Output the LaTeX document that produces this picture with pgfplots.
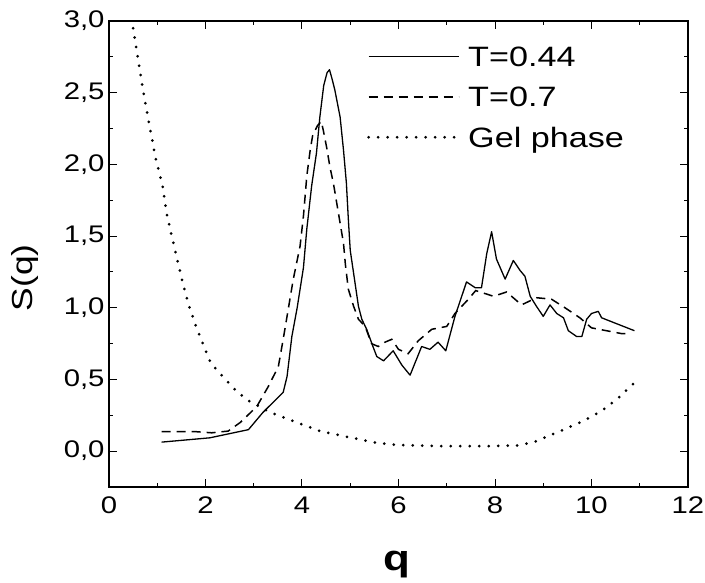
\documentclass[border=0pt]{standalone}
\usepackage{fontspec}
\setmainfont{Liberation Sans}[FakeStretch=1.22]
\usepackage{pgfplots}
\pgfplotsset{compat=1.18}
\begin{document}
\begin{tikzpicture}
\begin{axis}[
  scale only axis, width=579pt, height=466pt,
  xmin=0, xmax=12, ymin=-0.25, ymax=3,
  xtick={0,2,4,6,8,10,12}, ytick={0,0.5,1,1.5,2,2.5,3},
  minor x tick num=1, minor y tick num=1,
  tick align=inside, major tick length=8pt, minor tick length=4pt,
  axis line style={line width=1.2pt},
  every tick/.style={black, line width=1pt},
  /pgf/number format/assume math mode=true,
  ticklabel style={font=\fontsize{24}{24}\selectfont},
  y tick label style={/pgf/number format/use comma, /pgf/number format/fixed, /pgf/number format/fixed zerofill, /pgf/number format/precision=1, xshift=-1pt},
  x tick label style={yshift=-6pt},
  xlabel={\textbf{q}},
  xlabel style={font=\fontsize{36}{36}\selectfont, at={(axis description cs:0.497,-0.180)}, anchor=base},
  ylabel={S(q)},
  ylabel style={font=\fontsize{29}{29}\selectfont, at={(axis description cs:-0.145,0.449)}, anchor=center, rotate=0},
  legend image code/.code={\draw[#1] (0pt,1pt) -- (90pt,1pt);},
  legend style={at={(axis description cs:0.4456,0.944)}, anchor=north west, draw=none, fill=none, inner sep=0pt,
    font=\fontsize{28}{28}\selectfont, row sep=19pt, nodes={inner sep=0pt}, /tikz/column sep=8pt},
  legend cell align=left,
]
\addplot[black, line width=1.3pt, line join=round] coordinates {
(1.09,0.063) (2.09,0.093) (2.89,0.15) (3.19,0.27) (3.40,0.34) (3.61,0.41) (3.69,0.52) (3.79,0.80)
(3.90,1.00) (4.03,1.28) (4.10,1.55) (4.20,1.85) (4.30,2.08) (4.37,2.33) (4.45,2.55) (4.52,2.64)
(4.57,2.66) (4.62,2.60) (4.68,2.52) (4.79,2.33) (4.86,2.10) (4.92,1.87) (4.96,1.62) (5.00,1.40)
(5.07,1.24) (5.17,1.01) (5.24,0.92) (5.34,0.85) (5.47,0.73) (5.55,0.66) (5.69,0.63) (5.89,0.70)
(6.07,0.60) (6.24,0.53) (6.48,0.73) (6.65,0.71) (6.82,0.76) (6.98,0.70) (7.17,0.94) (7.41,1.18)
(7.59,1.14) (7.72,1.14) (7.83,1.38) (7.93,1.53) (8.03,1.34) (8.21,1.20) (8.38,1.33) (8.52,1.26)
(8.62,1.22) (8.73,1.08) (8.86,1.01) (9.00,0.94) (9.14,1.02) (9.28,0.96) (9.42,0.93) (9.52,0.84)
(9.69,0.80) (9.80,0.80) (9.90,0.92) (10.00,0.96) (10.14,0.975) (10.21,0.93) (10.89,0.84)
};
\addlegendentry{T=0.44}
\addplot[black, line width=1.5pt, dash pattern=on 9pt off 6pt] coordinates {
(1.09,0.137) (1.75,0.137) (2.13,0.128) (2.47,0.14) (2.72,0.20) (3.06,0.31) (3.30,0.45) (3.51,0.59)
(3.61,0.78) (3.72,1.00) (3.82,1.20) (3.96,1.43) (4.03,1.64) (4.10,1.92) (4.17,2.10) (4.22,2.20)
(4.32,2.27) (4.40,2.30) (4.44,2.24) (4.51,2.12) (4.58,1.98) (4.65,1.87) (4.72,1.73) (4.79,1.59)
(4.86,1.45) (4.90,1.30) (4.96,1.13) (5.07,1.01) (5.17,0.92) (5.31,0.87) (5.44,0.75) (5.58,0.73)
(5.72,0.76) (5.86,0.78) (6.00,0.71) (6.20,0.68) (6.41,0.77) (6.69,0.85) (7.00,0.87) (7.17,0.96)
(7.45,1.06) (7.60,1.12) (7.97,1.08) (8.24,1.11) (8.55,1.02) (8.86,1.07) (9.17,1.06) (9.45,1.00)
(9.76,0.93) (10.00,0.86) (10.31,0.84) (10.62,0.82) (10.75,0.82)
};
\addlegendentry{T=0.7}
\addplot[black, line width=3pt, line cap=round, dash pattern=on 0pt off 9.5pt] coordinates {
(0.50,2.95) (0.71,2.51) (0.85,2.25) (0.97,2.04) (1.11,1.85) (1.20,1.65) (1.28,1.53) (1.37,1.40)
(1.51,1.20) (1.66,1.01) (1.80,0.875) (1.95,0.745) (2.11,0.615) (2.28,0.55) (2.44,0.49) (2.61,0.43)
(2.85,0.36) (3.34,0.27) (3.82,0.21) (4.37,0.14) (4.93,0.10) (5.55,0.058) (6.03,0.042) (6.86,0.035)
(7.90,0.035) (8.50,0.04) (8.86,0.07) (9.42,0.15) (9.83,0.21) (10.21,0.28) (10.59,0.38) (10.80,0.45)
(11.00,0.51)
};
\addlegendentry{Gel phase}
\coordinate (bl) at (rel axis cs:0,0);
\coordinate (tr) at (rel axis cs:1,1);
\end{axis}
\pgfresetboundingbox
\path ([shift={(-109pt,-95pt)}]bl) rectangle ([shift={(17pt,21pt)}]tr);
\end{tikzpicture}
\end{document}
